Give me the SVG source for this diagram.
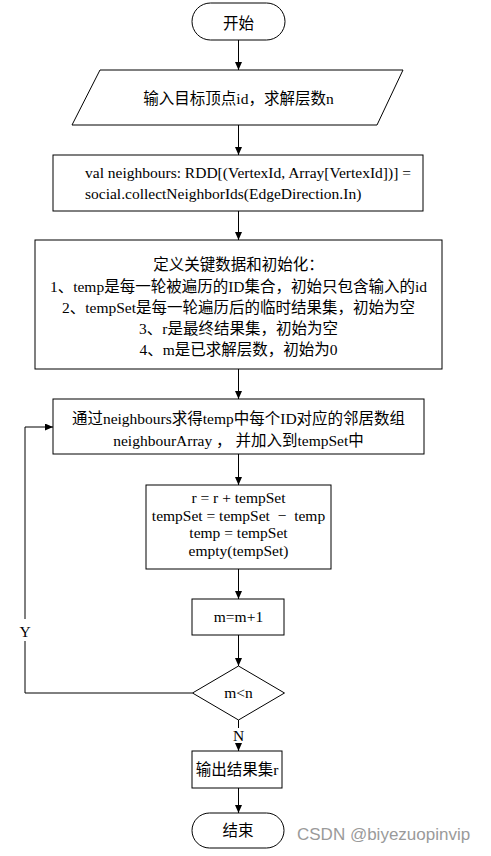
<svg xmlns="http://www.w3.org/2000/svg" width="491" height="856" viewBox="0 0 491 856">
<style>
.s{fill:#fff;stroke:#000;stroke-width:1}
.t{font-family:"Liberation Serif","Noto Sans CJK SC",serif;font-size:15.5px;fill:#000}
.c{text-anchor:middle}
.e{fill:none;stroke:#000;stroke-width:1}
.w{font-family:"Liberation Sans","Noto Sans",sans-serif;font-size:17px;fill:#9a9a9a}
</style>
<defs>
<marker id="ah" markerUnits="userSpaceOnUse" markerWidth="8" markerHeight="8" refX="8" refY="3.5" orient="auto">
<path d="M0,0 L8,3.5 L0,7 z" fill="#000"/>
</marker>
</defs>
<rect width="491" height="856" fill="#fff"/>
<g id="connectors">
<path class="e" d="M238.5,40 V70" marker-end="url(#ah)"/>
<path class="e" d="M238.5,125 V155" marker-end="url(#ah)"/>
<path class="e" d="M238.5,211 V240" marker-end="url(#ah)"/>
<path class="e" d="M238.5,369 V399" marker-end="url(#ah)"/>
<path class="e" d="M238.5,454 V485" marker-end="url(#ah)"/>
<path class="e" d="M238.5,569 V599" marker-end="url(#ah)"/>
<path class="e" d="M238.5,635 V666" marker-end="url(#ah)"/>
<path class="e" d="M238.5,720 V728 M238.5,744 V751" marker-end="url(#ah)"/>
<path class="e" d="M238.5,788 V813" marker-end="url(#ah)"/>
<path class="e" d="M192.5,693 H25 V641 M25,619 V427 H53" marker-end="url(#ah)"/>
<text class="t c" x="25" y="637">Y</text>
<text class="t c" x="238.5" y="741">N</text>
</g>
<g id="start">
<rect class="s" x="192" y="3" width="93" height="37" rx="18.5"/>
<text class="t c" x="238.5" y="28.5">开始</text>
</g>
<g id="input">
<polygon class="s" points="100,70 403,70 377,125 72,125"/>
<text class="t c" x="238.5" y="104">输入目标顶点id，求解层数n</text>
</g>
<g id="neighbours">
<rect class="s" x="53" y="155" width="370" height="56"/>
<text class="t" x="85" y="178">val neighbours: RDD[(VertexId, Array[VertexId])] =</text>
<text class="t" x="85" y="199">social.collectNeighborIds(EdgeDirection.In)</text>
</g>
<g id="init">
<rect class="s" x="35" y="240" width="407" height="129"/>
<text class="t c" x="238.5" y="270">定义关键数据和初始化：</text>
<text class="t c" x="238.5" y="292">1、temp是每一轮被遍历的ID集合，初始只包含输入的id</text>
<text class="t c" x="238.5" y="313">2、tempSet是每一轮遍历后的临时结果集，初始为空</text>
<text class="t c" x="238.5" y="334">3、r是最终结果集，初始为空</text>
<text class="t c" x="238.5" y="355">4、m是已求解层数，初始为0</text>
</g>
<g id="loop">
<rect class="s" x="53" y="399" width="371" height="55"/>
<text class="t c" x="238.5" y="424">通过neighbours求得temp中每个ID对应的邻居数组</text>
<text class="t c" x="238.5" y="446" style="white-space:pre">neighbourArray ， 并加入到tempSet中</text>
</g>
<g id="update">
<rect class="s" x="146" y="485" width="185" height="84"/>
<text class="t c" x="238.5" y="503">r = r + tempSet</text>
<text class="t c" x="238.5" y="521" style="white-space:pre">tempSet = tempSet  −  temp</text>
<text class="t c" x="238.5" y="538">temp = tempSet</text>
<text class="t c" x="238.5" y="556">empty(tempSet)</text>
</g>
<g id="incr">
<rect class="s" x="192" y="599" width="92" height="36"/>
<text class="t c" x="238.5" y="622">m=m+1</text>
</g>
<g id="cond">
<polygon class="s" points="238.5,666 284.5,693 238.5,720 192.5,693"/>
<text class="t c" x="238.5" y="698">m&lt;n</text>
</g>
<g id="output">
<rect class="s" x="192" y="751" width="90" height="37"/>
<text class="t c" x="237" y="775">输出结果集r</text>
</g>
<g id="end">
<rect class="s" x="192" y="813" width="92" height="35" rx="17.5"/>
<text class="t c" x="238" y="836">结束</text>
</g>
<text class="w" x="297" y="840">CSDN @biyezuopinvip</text>
</svg>
